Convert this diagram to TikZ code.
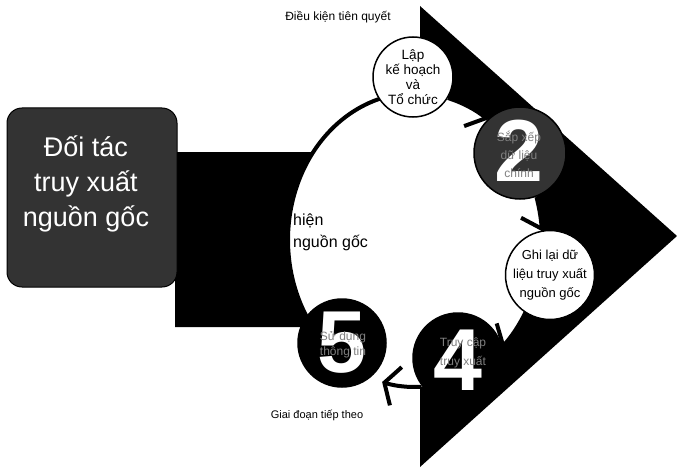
\documentclass[tikz,border=0pt]{standalone}
\usepackage{fontspec}
\setmainfont{Liberation Sans}
\usetikzlibrary{arrows.meta}
\tikzset{
  ring/.style={line width=4pt, draw=black},
  barb/.style={-{Straight Barb[length=12pt,width=40pt]}},
  stepwhite/.style={circle, draw=black, line width=1.5pt, fill=white, inner sep=0pt, align=center},
  stepdark/.style={circle, draw=black, line width=1.5pt, fill=#1, inner sep=0pt},
  bignum/.style={text=white, font=\fontsize{88}{88}\selectfont\bfseries, inner sep=0pt},
  darktext/.style={text=black!50, align=center, inner sep=0pt, font=\fontsize{12}{17}\selectfont},
  plainlabel/.style={inner sep=0pt, text=black},
}
\begin{document}
\begin{tikzpicture}[x=1pt,y=1pt]
\useasboundingbox (0,0) rectangle (677,-468);
% block arrow (body + head)
\fill[black] (175,-152) -- (420,-152) -- (420,-6) -- (677,-236) -- (420,-467) -- (420,-327) -- (175,-327) -- cycle;
% partner box
\node[rectangle, rounded corners=15pt, minimum width=170pt, minimum height=179pt, fill=black!80, draw=black, line width=1pt] (partner) at (92,-197.5) {};
\node[text=white, align=center, inner sep=0pt, font=\fontsize{27}{35}\selectfont] (partnertext) at (86,-184) {Đối tác\\truy xuất\\nguồn gốc};
% white cycle disc
\fill[white] (415,-240) ellipse [x radius=127, y radius=147];
% cycle ring with arrows
\begin{scope}[shift={(415,-240)}]
  \draw[ring] (212:127pt and 147pt) arc[start angle=212, end angle=100, x radius=127pt, y radius=147pt];
  \draw[ring,barb] (75:127pt and 147pt) arc[start angle=75, end angle=55, x radius=127pt, y radius=147pt];
  \draw[ring,barb] (17:127pt and 147pt) arc[start angle=17, end angle=3.5, x radius=127pt, y radius=147pt];
  \draw[ring,barb] (-29:127pt and 147pt) arc[start angle=-29, end angle=-47, x radius=127pt, y radius=147pt];
  \draw[ring,barb] (-87:127pt and 147pt) arc[start angle=-87, end angle=-105, x radius=127pt, y radius=147pt];
\end{scope}
% centre text (visible part)
\node[plainlabel, anchor=base west, font=\fontsize{16}{16}\selectfont] (centre1) at (293,-225) {hiện};
\node[plainlabel, anchor=base west, font=\fontsize{16}{16}\selectfont] (centre2) at (293,-247) {nguồn gốc};
% step 1
\node[stepwhite, minimum size=80pt, font=\fontsize{13.5}{15}\selectfont] (s1) at (413,-77) {Lập\\kế hoạch\\và\\Tổ chức};
% step 2
\node[stepdark=black!80, minimum size=92pt] (s2) at (520,-153) {};
\node[bignum] (n2) at (519,-151) {2};
\node[darktext, font=\fontsize{12}{18}\selectfont] (t2) at (519,-154) {Sắp xếp\\dữ liệu\\chính};
% step 3
\node[stepwhite, minimum size=88pt, font=\fontsize{13}{19}\selectfont] (s3) at (550,-275) {Ghi lại dữ\\liệu truy xuất\\nguồn gốc};
% step 4
\node[stepdark=black, minimum size=90pt] (s4) at (458,-358) {};
\node[bignum] (n4) at (458,-360) {4};
\node[darktext, font=\fontsize{12}{19}\selectfont] (t4) at (463,-353) {Truy cập\\truy xuất};
% step 5
\node[stepdark=black, minimum size=88pt] (s5) at (342,-343) {};
\node[bignum] (n5) at (342,-343) {5};
\node[darktext, font=\fontsize{12}{15}\selectfont] (t5) at (343,-345) {Sử dụng\\thông tin};
% labels
\node[plainlabel, font=\fontsize{12}{12}\selectfont] (pre) at (338,-17) {Điều kiện tiên quyết};
\node[plainlabel, font=\fontsize{11}{11}\selectfont] (next) at (317,-415) {Giai đoạn tiếp theo};
\end{tikzpicture}
\end{document}
